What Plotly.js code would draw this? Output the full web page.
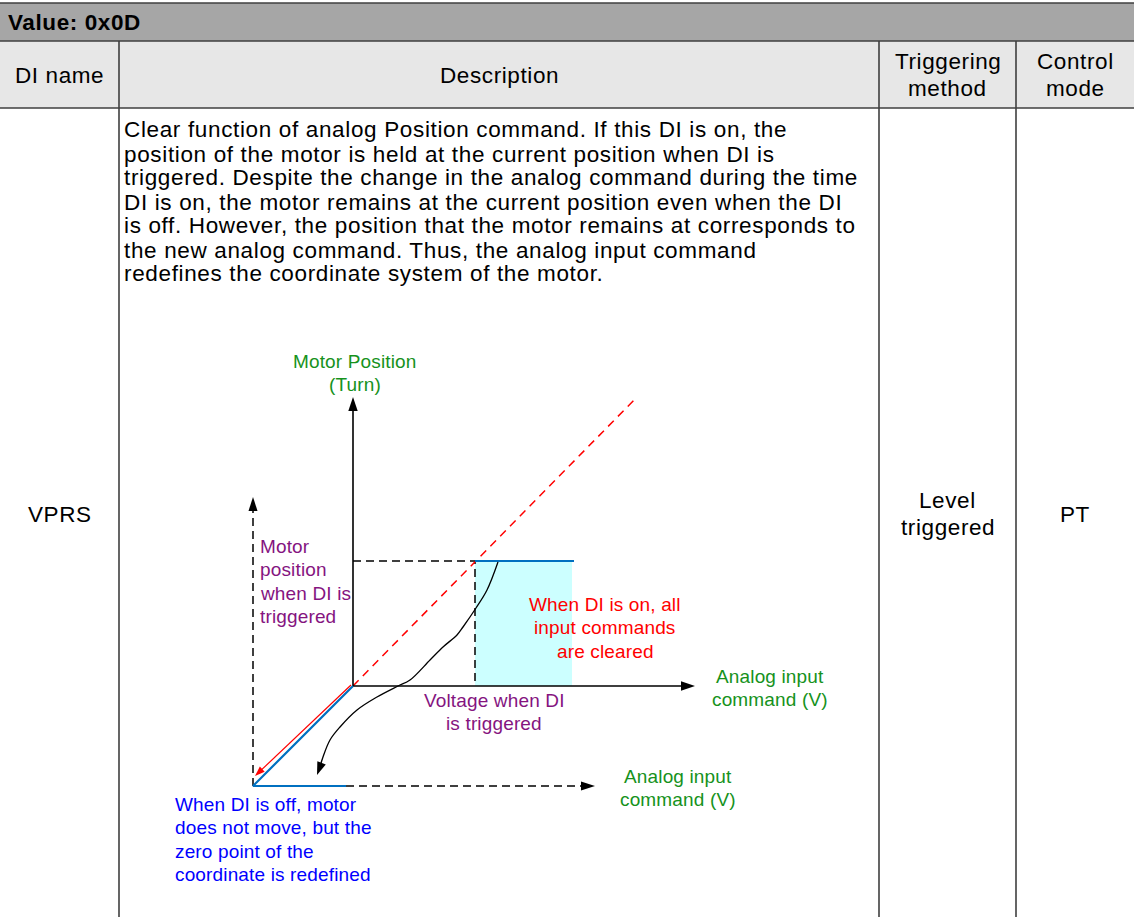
<!DOCTYPE html>
<html>
<head>
<meta charset="utf-8">
<script src="https://cdn.plot.ly/plotly-3.0.1.min.js"></script>
<style>
html, body { margin: 0; padding: 0; background: #ffffff; }
#chart { width: 1134px; height: 917px; }
</style>
</head>
<body>
<div id="chart"></div>
<script>
// ================= TABLE CONTENT =================
const tableTitle = "Value: 0x0D";
const headerLabels = [["DI name"], ["Description"], ["Triggering", "method"], ["Control", "mode"]];
const rowName = ["VPRS"];
const rowTrigger = ["Level", "triggered"];
const rowMode = ["PT"];
const descriptionLines = [
  "Clear function of analog Position command. If this DI is on, the",
  "position of the motor is held at the current position when DI is",
  "triggered. Despite the change in the analog command during the time",
  "DI is on, the motor remains at the current position even when the DI",
  "is off. However, the position that the motor remains at corresponds to",
  "the new analog command. Thus, the analog input command",
  "redefines the coordinate system of the motor."
];

// ================= DIAGRAM DATA =================
// V = analog input command, P = motor position; main origin at (0, 0)
const mainAxisV = [0, 34.2];          // analog input axis: origin -> arrow tip
const mainAxisP = [0, 28.9];          // motor position axis: origin -> arrow tip
const newOriginV = -10;               // redefined zero point
const newOriginP = -10;
const newAxisTipV = 24.2;             // redefined analog axis arrow tip
const newAxisTipP = 18.9;             // redefined position axis arrow tip
const commandV = [0, 28.4];           // red dashed: position follows command
const commandP = [0, 28.9];
const triggerV = 12.2;                // voltage when DI is triggered
const triggerP = 12.5;                // motor position when DI is triggered
const heldEndV = 22.1;                // end of held (blue) segment
const clearedEndV = 21.9;             // end of cleared (cyan) region
const zeroShiftV = [0, -10, -0.7];    // blue: diagonal to new origin, then flat
const zeroShiftP = [0, -10, -10];
const shiftArrowV = [-0.2, -9.8];     // red arrow along the shift
const shiftArrowP = [0.1, -9.0];
const curveV = [14.5, 13.4, 12.3, 11.0, 10.4, 9.0, 7.7, 5.7, 4.5, 2.4, 0.4, -1.3, -2.3, -3.0, -3.3, -3.6];
const curveP = [12.4, 9.6, 7.8, 5.9, 5.1, 3.9, 2.6, 0.6, 0.0, -1.1, -2.4, -4.1, -5.4, -7.1, -8.1, -8.9];

// diagram labels
const lblMotorAxis = ["Motor Position", "(Turn)"];
const lblHeldPos = ["Motor", "position", "when DI is", "triggered"];
const lblCleared = ["When DI is on, all", "input commands", "are cleared"];
const lblAnalog = ["Analog input", "command (V)"];
const lblVoltage = ["Voltage when DI", "is triggered"];
const lblOff = ["When DI is off, motor", "does not move, but the", "zero point of the", "coordinate is redefined"];

// ================= LAYOUT CONSTANTS =================
const W = 1134, H = 917;
const FONT = "Arial, 'Liberation Sans', sans-serif";
const colEdges = [0, 119, 879, 1016, 1134];
const rowEdges = [3, 41, 108, 917];
const GRID = "#3f3f3f";
const GREEN = "#16921c", PURPLE = "#85147f", RED = "#ff0000", BLUE_TXT = "#0000ff", BLUE_LN = "#0070c0";
const TSIZE = 22.5, TSPACE = "0.6px";
// diagram box (pixels) and scale: origin pixel, px per unit
const D = { left: 150, right: 870, top: 330, bottom: 900, ox: 353, oy: 686, s: 10 };

const px = x => x / W;
const py = y => 1 - y / H;
const spaced = (t, ls) => `<span style="letter-spacing:${ls}">${t}</span>`;

const shapes = [];
const annotations = [];

// ---------- table frame ----------
shapes.push({ type: "rect", xref: "paper", yref: "paper", layer: "below",
  x0: 0, x1: 1, y0: py(rowEdges[1]), y1: py(rowEdges[0]), fillcolor: "#a6a6a6", line: { width: 0 } });
shapes.push({ type: "rect", xref: "paper", yref: "paper", layer: "below",
  x0: 0, x1: 1, y0: py(rowEdges[2]), y1: py(rowEdges[1]), fillcolor: "#e7e7e7", line: { width: 0 } });
[rowEdges[0], rowEdges[1], rowEdges[2]].forEach(y => shapes.push({
  type: "line", xref: "paper", yref: "paper", layer: "below",
  x0: 0, x1: 1, y0: py(y), y1: py(y), line: { color: GRID, width: 1.6 } }));
[colEdges[1], colEdges[2], colEdges[3]].forEach(x => shapes.push({
  type: "line", xref: "paper", yref: "paper", layer: "below",
  x0: px(x), x1: px(x), y0: py(rowEdges[1]), y1: py(rowEdges[3]), line: { color: GRID, width: 1.6 } }));

function paperText(lines, x, yc, spacing, anchor, size, color, bold, ls) {
  const y0 = yc - (lines.length - 1) * spacing / 2;
  lines.forEach((t, i) => annotations.push({
    xref: "paper", yref: "paper", x: px(x), y: py(y0 + i * spacing),
    xanchor: anchor, yanchor: "middle", showarrow: false, borderpad: 0, borderwidth: 0,
    text: spaced(bold ? "<b>" + t + "</b>" : t, ls),
    font: { family: FONT, size: size, color: color }
  }));
}
const cellMid = i => (colEdges[i] + colEdges[i + 1]) / 2;

paperText([tableTitle], 8, 22, 0, "left", TSIZE, "#000", true, "0.6px");
headerLabels.forEach((lines, i) => paperText(lines, cellMid(i), 75, 27.5, "center", TSIZE, "#000", false, TSPACE));
paperText(rowName, cellMid(0), 514, 27.5, "center", TSIZE, "#000", false, TSPACE);
paperText(rowTrigger, cellMid(2), 514, 27.5, "center", TSIZE, "#000", false, TSPACE);
paperText(rowMode, cellMid(3), 514, 27.5, "center", TSIZE, "#000", false, TSPACE);
descriptionLines.forEach((t, i) => annotations.push({
  xref: "paper", yref: "paper", x: px(123.5), y: py(130 + i * 24),
  xanchor: "left", yanchor: "middle", showarrow: false, borderpad: 0, borderwidth: 0,
  text: spaced(t, "0.65px"), font: { family: FONT, size: TSIZE, color: "#000" }
}));

// ---------- diagram ----------
const traces = [];
const lineTrace = (x, y, color, width, dash, shape) => ({
  type: "scatter", mode: "lines", x: x, y: y, hoverinfo: "skip", showlegend: false,
  line: { color: color, width: width, dash: dash || "solid", shape: shape || "linear", smoothing: 1 }
});

// arrowhead helper (isotropic units)
function head(tipX, tipY, fromX, fromY, len, half, color) {
  const dx = tipX - fromX, dy = tipY - fromY, d = Math.hypot(dx, dy);
  const ux = dx / d, uy = dy / d, nx = -uy, ny = ux;
  const bx = tipX - ux * len, by = tipY - uy * len;
  shapes.push({ type: "path", xref: "x", yref: "y", layer: "above",
    path: `M${tipX},${tipY} L${bx + nx * half},${by + ny * half} L${bx - nx * half},${by - ny * half} Z`,
    fillcolor: color, line: { width: 0 } });
  return [tipX - ux * len * 0.7, tipY - uy * len * 0.7];
}

// cyan cleared region
traces.push({ type: "scatter", mode: "lines", hoverinfo: "skip", showlegend: false,
  x: [triggerV, clearedEndV, clearedEndV, triggerV, triggerV],
  y: [0, 0, triggerP, triggerP, 0],
  fill: "toself", fillcolor: "#ccffff", line: { width: 0 } });

// guides at trigger point
traces.push(lineTrace([0, triggerV, triggerV], [triggerP, triggerP, 0], "#000", 1.5, "8px,5px"));
// red dashed command line
traces.push(lineTrace(commandV, commandP, RED, 1.5, "8px,6px"));

// main axes
const xEnd = head(mainAxisV[1], 0, mainAxisV[0], 0, 1.4, 0.47, "#000");
const yEnd = head(0, mainAxisP[1], 0, mainAxisP[0], 1.4, 0.47, "#000");
traces.push(lineTrace([xEnd[0], 0, 0], [0, 0, yEnd[1]], "#000", 1.6));

// redefined axes (dashed)
const nyEnd = head(newOriginV, newAxisTipP, newOriginV, newOriginP, 1.4, 0.45, "#000");
traces.push(lineTrace([newOriginV, newOriginV], [newOriginP, nyEnd[1]], "#000", 1.5, "8px,5px"));
const nxEnd = head(newAxisTipV, newOriginP, newOriginV, newOriginP, 1.4, 0.45, "#000");
traces.push(lineTrace([zeroShiftV[2], nxEnd[0]], [newOriginP, newOriginP], "#000", 1.5, "8px,5px"));

// blue lines
traces.push(lineTrace(zeroShiftV, zeroShiftP, BLUE_LN, 2.2));
traces.push(lineTrace([triggerV, heldEndV], [triggerP, triggerP], BLUE_LN, 2.2));

// red shift arrow
const rEnd = head(shiftArrowV[1], shiftArrowP[1], shiftArrowV[0], shiftArrowP[0], 1.0, 0.35, RED);
traces.push(lineTrace([shiftArrowV[0], rEnd[0]], [shiftArrowP[0], rEnd[1]], RED, 1.2));

// black curve with arrow
const n = curveV.length;
const cEnd = head(curveV[n - 1], curveP[n - 1], curveV[n - 2], curveP[n - 2], 1.3, 0.45, "#000");
traces.push(lineTrace(curveV.slice(0, n - 1).concat([cEnd[0]]), curveP.slice(0, n - 1).concat([cEnd[1]]),
  "#000", 1.3, "solid", "spline"));

// diagram labels (in diagram units; 2.35 units line spacing)
function diagText(lines, x, yTop, anchor, color) {
  lines.forEach((t, i) => annotations.push({
    xref: "x", yref: "y", x: x, y: yTop - i * 2.35,
    xanchor: anchor, yanchor: "middle", showarrow: false, borderpad: 0, borderwidth: 0,
    text: spaced(t, "0.15px"), font: { family: FONT, size: 19, color: color }
  }));
}
diagText(lblMotorAxis, 0.15, 32.5, "center", GREEN);
diagText(lblHeldPos, -9.3, 14.0, "left", PURPLE);
diagText(lblCleared, 25.2, 8.2, "center", RED);
diagText(lblAnalog, 41.7, 1.0, "center", GREEN);
diagText(lblVoltage, 14.1, -1.4, "center", PURPLE);
diagText(lblAnalog, 32.5, -9.0, "center", GREEN);
diagText(lblOff, -17.8, -11.8, "left", BLUE_TXT);

const layout = {
  width: W, height: H,
  margin: { l: 0, r: 0, t: 0, b: 0, pad: 0 },
  paper_bgcolor: "#ffffff", plot_bgcolor: "rgba(0,0,0,0)",
  showlegend: false,
  xaxis: { domain: [D.left / W, D.right / W], range: [(D.left - D.ox) / D.s, (D.right - D.ox) / D.s],
    visible: false, fixedrange: true },
  yaxis: { domain: [1 - D.bottom / H, 1 - D.top / H], range: [(D.oy - D.bottom) / D.s, (D.oy - D.top) / D.s],
    visible: false, fixedrange: true },
  shapes: shapes,
  annotations: annotations
};

Plotly.newPlot("chart", traces, layout, { displayModeBar: false, staticPlot: true });
</script>
</body>
</html>
